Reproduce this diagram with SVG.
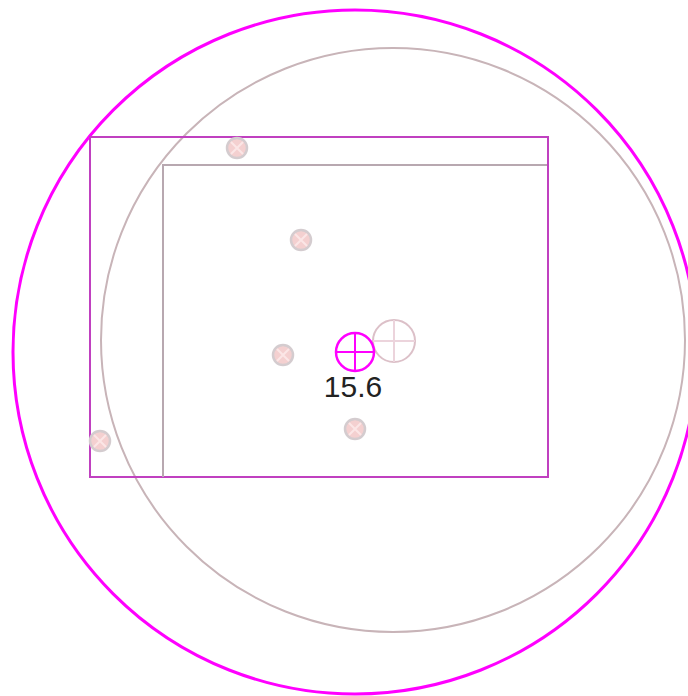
<svg xmlns="http://www.w3.org/2000/svg" width="688" height="696" viewBox="0 0 688 696">
<style>
.big{fill:none;stroke:#ff00ff;stroke-width:3}
.gc{fill:none;stroke:#c8b4b8;stroke-width:2}
.mr{fill:none;stroke:#c040c0;stroke-width:2}
.gr{fill:none;stroke:#b8a8b0;stroke-width:2}
.dot circle{fill:#f4d0d0;stroke:#d4cccf;stroke-width:2.5}
.dot path{stroke:#fbe6e6;stroke-width:2;fill:none}
</style>
<defs>
<g id="dotsym" class="dot"><circle r="10"/><path d="M-6,-6L6,6M6,-6L-6,6"/></g>
</defs>
<rect width="688" height="696" fill="#fff"/>
<g id="outer-circle"><circle class="big" cx="355" cy="352" r="342"/></g>
<g id="grey-circle"><circle class="gc" cx="393" cy="340" r="292"/></g>
<g id="outer-rect"><rect class="mr" x="90" y="137" width="458" height="340"/></g>
<g id="inner-rect"><path class="gr" d="M163,477V165H547"/></g>
<g id="dots">
<use href="#dotsym" x="237" y="148"/>
<use href="#dotsym" x="301" y="240"/>
<use href="#dotsym" x="283" y="355"/>
<use href="#dotsym" x="100" y="441"/>
<use href="#dotsym" x="355" y="429"/>
</g>
<g id="grey-target"><circle cx="394" cy="341" r="21" fill="none" stroke="#dcc0c8" stroke-width="2"/><path d="M373,341H415M394,320V362" stroke="#ecd4dc" stroke-width="2"/></g>
<g id="magenta-target"><circle cx="355" cy="352" r="19" fill="none" stroke="#ff00ff" stroke-width="2.5"/><path d="M336,352H374M355,333V371" stroke="#ff00ff" stroke-width="2"/></g>
<text x="353" y="397" font-family="Liberation Sans, Arial, sans-serif" font-size="30" text-anchor="middle" fill="#222">15.6</text>
</svg>
